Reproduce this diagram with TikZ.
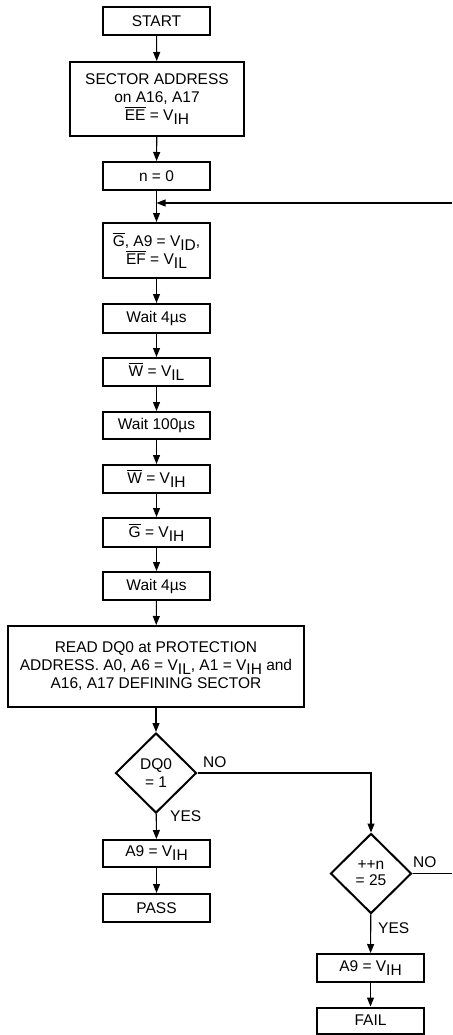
\documentclass[tikz,border=0pt]{standalone}
\usepackage{fontspec}
\setmainfont{Liberation Sans}
\usetikzlibrary{arrows.meta,shapes.geometric}
\newcommand{\ovl}[1]{\leavevmode\setbox0\hbox{#1}\rlap{\rule[\dimexpr\ht0+1.6pt\relax]{\wd0}{0.9pt}}\box0\relax}
\newcommand{\sbs}[1]{\raisebox{-4pt}{#1}}
\tikzset{
  box/.style={draw, line width=2pt, rectangle, inner sep=0pt, minimum width=107pt, minimum height=28pt, align=center, font=\fontsize{15.5}{18}\selectfont},
  dec/.style={draw, line width=2pt, diamond, inner sep=0pt, minimum width=81pt, minimum height=80pt, align=center, font=\fontsize{15.5}{19}\selectfont},
  arr/.style={line width=1.1pt, -{Triangle[length=9pt,width=7pt]}},
  ln/.style={line width=1.1pt},
  lbl/.style={font=\fontsize{15.5}{18}\selectfont, inner sep=0pt, anchor=west}
}
\begin{document}
\begin{tikzpicture}[x=1pt,y=-1pt]
\useasboundingbox (0,0) rectangle (452,1035);
\node[box] (start) at (156.5,21) {START};
\node[box, minimum width=174pt, minimum height=74pt] (sect) at (157,99) {SECTOR ADDRESS\\on A16, A17\\\ovl{EE} = V\sbs{IH}};
\node[box] (n0) at (156.5,176) {n = 0};
\node[box, minimum height=55pt] (g) at (156.5,250.5) {\ovl{G}, A9 = V\sbs{ID},\\\ovl{EF} = V\sbs{IL}};
\node[box, minimum height=29pt] (w1) at (156.5,318.5) {Wait 4µs};
\node[box] (wl) at (156.5,372) {\ovl{W} = V\sbs{IL}};
\node[box, minimum height=27pt] (w2) at (156.5,425.5) {Wait 100µs};
\node[box] (wh) at (156.5,479) {\ovl{W} = V\sbs{IH}};
\node[box, minimum height=29pt] (gh) at (156.5,532.5) {\ovl{G} = V\sbs{IH}};
\node[box] (w3) at (156.5,586) {Wait 4µs};
\node[box, minimum width=296pt, minimum height=81pt] (read) at (156,666.5) {READ DQ0 at PROTECTION\\ADDRESS. A0, A6 = V\sbs{IL}, A1 = V\sbs{IH} and\\A16, A17 DEFINING SECTOR};
\node[dec] (dq) at (156,773) {\raisebox{-5pt}{\shortstack{DQ0\\[2pt]= 1}}};
\node[box, minimum height=27pt] (a9l) at (156.5,853.5) {A9 = V\sbs{IH}};
\node[box] (pass) at (156.5,908) {PASS};
\node[dec] (inc) at (371,873.5) {\raisebox{-3pt}{\shortstack{++n\\[2pt]= 25}}};
\node[box] (a9r) at (370.5,968) {A9 = V\sbs{IH}};
\node[box, minimum height=26pt] (fail) at (370.5,1020.5) {FAIL};
\coordinate (fbR) at (452,203);
\coordinate (fbJ) at (156.5,203);
\coordinate (noR) at (452,873.5);
\node[lbl] (no1) at (203,762) {NO};
\node[lbl] (yes1) at (170,816) {YES};
\node[lbl] (no2) at (413,862) {NO};
\node[lbl] (yes2) at (378,928) {YES};
\draw[arr] (start) -- (sect);
\draw[arr] (sect) -- (n0);
\draw[arr] (n0) -- (g);
\draw[arr] (fbR) -- (fbJ);
\draw[arr] (g) -- (w1);
\draw[arr] (w1) -- (wl);
\draw[arr] (wl) -- (w2);
\draw[arr] (w2) -- (wh);
\draw[arr] (wh) -- (gh);
\draw[arr] (gh) -- (w3);
\draw[arr] (w3) -- (read);
\draw[arr] (read) -- (dq);
\draw[arr] (dq.east) -| (inc.north);
\draw[arr] (dq) -- (a9l);
\draw[arr] (a9l) -- (pass);
\draw[ln] (inc.east) -- (noR);
\draw[arr] (inc) -- (a9r);
\draw[arr] (a9r) -- (fail);
\end{tikzpicture}
\end{document}
